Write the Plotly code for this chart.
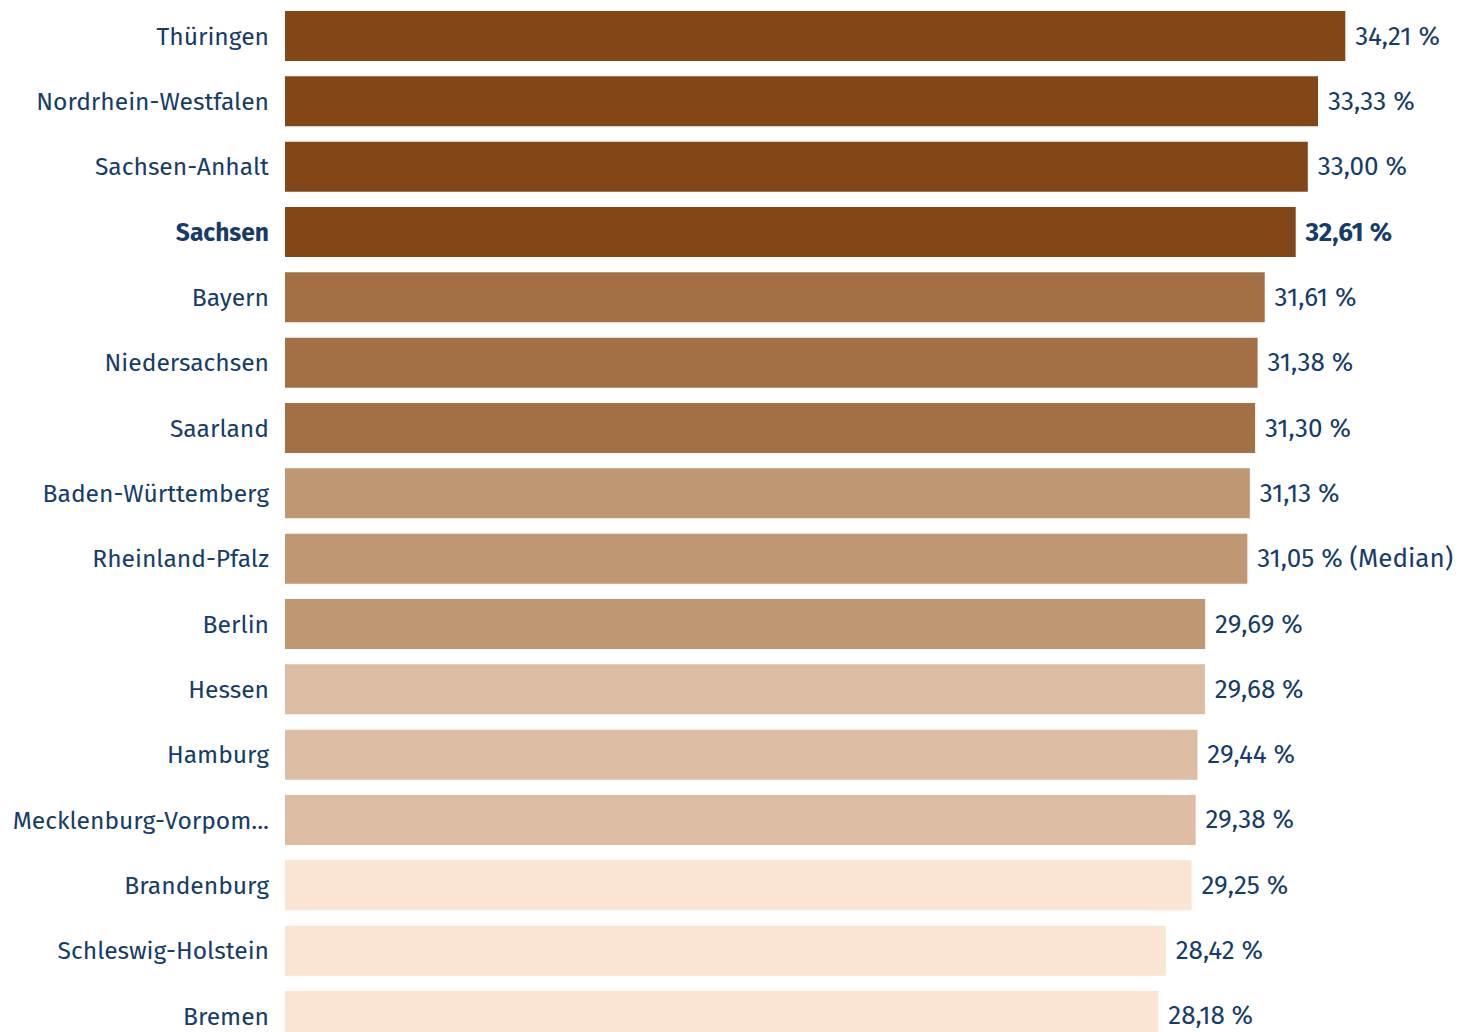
import plotly.graph_objects as go

laender = ["Thüringen", "Nordrhein-Westfalen", "Sachsen-Anhalt", "Sachsen", "Bayern",
           "Niedersachsen", "Saarland", "Baden-Württemberg", "Rheinland-Pfalz", "Berlin",
           "Hessen", "Hamburg", "Mecklenburg-Vorpom...", "Brandenburg", "Schleswig-Holstein", "Bremen"]
werte = [34.21, 33.33, 33.00, 32.61, 31.61, 31.38, 31.30, 31.13, 31.05, 29.69,
         29.68, 29.44, 29.38, 29.25, 28.42, 28.18]
gruppe = [0, 0, 0, 0, 1, 1, 1, 2, 2, 2, 3, 3, 3, 4, 4, 4]
farben = ["#834617", "#A27044", "#BF9773", "#DCBCA3", "#FAE5D3"]
hervorgehoben = "Sachsen"
median_land = "Rheinland-Pfalz"

def fmt(v):
    return f"{v:.2f}".replace(".", ",") + " %"

texte = []
ticktexte = []
for land, w in zip(laender, werte):
    t = fmt(w)
    if land == median_land:
        t += " (Median)"
    if land == hervorgehoben:
        t = f"<b>{t}</b>"
        ticktexte.append(f"<b>{land}</b>")
    else:
        ticktexte.append(land)
    texte.append("\u00a0" + t)

idx = list(range(len(laender)))

fig = go.Figure(go.Bar(
    x=werte, y=idx, orientation="h",
    marker=dict(color=[farben[g] for g in gruppe], line=dict(width=0)),
    text=texte, textposition="outside", cliponaxis=False,
    textfont=dict(color="#163C69", size=26),
    hoverinfo="skip",
))

fig.update_layout(
    width=1465, height=1024,
    margin=dict(l=277, r=0, t=0, b=0),
    paper_bgcolor="white", plot_bgcolor="white",
    font=dict(family="Fira Sans, Noto Sans, sans-serif", color="#163C69", size=24),
    bargap=0.235, showlegend=False,
)
fig.update_xaxes(range=[0, 38.33], visible=False, showgrid=False, zeroline=False)
fig.update_yaxes(range=[15.245, -0.4286], tickvals=idx, ticktext=ticktexte,
                 showgrid=False, zeroline=False, showline=False, ticks="",
                 ticklabelstandoff=15, tickfont=dict(size=24.6, color="#163C69"))

fig.write_html("out.html")
